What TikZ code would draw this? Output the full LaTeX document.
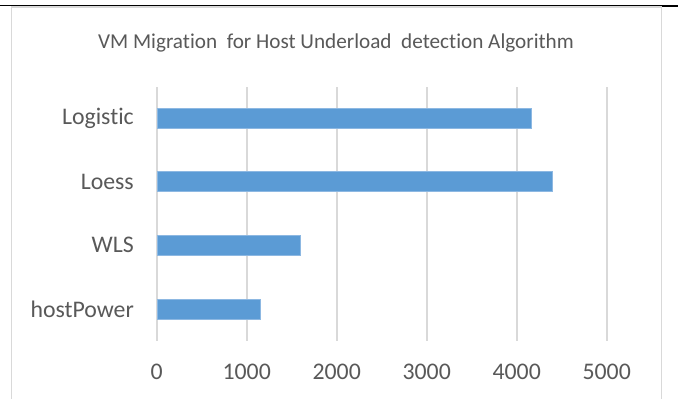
\documentclass[tikz,border=0pt]{standalone}
\usepackage{fontspec}
\setmainfont[Ligatures={NoCommon}]{Carlito}
\definecolor{txtgray}{HTML}{595959}
\definecolor{gridgray}{HTML}{D9D9D9}
\definecolor{barblue}{HTML}{5B9BD5}
\definecolor{baredge}{HTML}{8DB8E2}
\begin{document}
\begin{tikzpicture}[x=1pt,y=-1pt,
  gridline/.style={draw=gridgray,line width=1.6pt},
  hbar/.style={fill=barblue,draw=baredge,line width=0.6pt},
  catlabel/.style={text=txtgray,anchor=east,inner sep=0pt,font=\fontsize{23.8}{28}\selectfont},
  ticklabel/.style={text=txtgray,anchor=center,inner sep=0pt,font=\fontsize{23.8}{28}\selectfont},
  titlelabel/.style={text=txtgray,anchor=center,inner sep=0pt,font=\fontsize{21.2}{25}\selectfont}]
\useasboundingbox (0,0) rectangle (678,399);
\fill[white] (0,0) rectangle (678,399);
% chart frame
\draw[gridgray,line width=1.5pt] (11.5,420) -- (11.5,7) -- (661.3,7) -- (661.3,420);
% page rule above the chart
\draw[black,line width=1.4pt] (0,5.6) -- (662,5.6);
\draw[black,line width=2.4pt] (662,6.1) -- (678,6.1);
% title
\node[titlelabel] (title) at (336,43) {VM Migration\ \ for Host Underload\ \ detection Algorithm};
% vertical gridlines and value axis labels
\foreach \v [count=\i from 0] in {0,1000,2000,3000,4000,5000}{
  \coordinate (g\i top) at (156.7+90*\i,87);
  \coordinate (g\i bot) at (156.7+90*\i,341);
  \draw[gridline] (g\i top) -- (g\i bot);
  \node[ticklabel] (t\i) at (156.7+90*\i,371.5) {\v};
}
% bars (90 units per 1000)
\foreach \name/\val/\yc in {logistic/4162/118.3, loess/4400/181.7, wls/1596/245.3, hostpower/1148/309}{
  \draw[hbar] (157.5,\yc-10) rectangle (156.7+0.09*\val,\yc+10);
}
% category labels
\node[catlabel] (lLogistic) at (134,118.3) {Logistic};
\node[catlabel] (lLoess) at (134,181.7) {Loess};
\node[catlabel] (lWLS) at (134,245.3) {WLS};
\node[catlabel] (lhost) at (134,309) {hostPower};
\end{tikzpicture}
\end{document}
